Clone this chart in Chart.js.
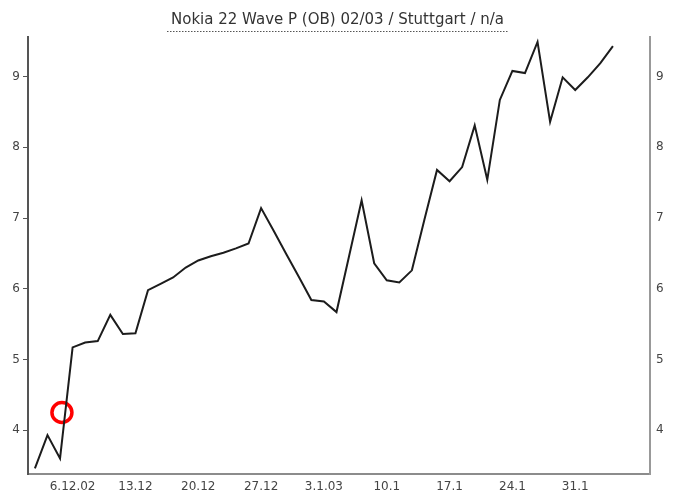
<!DOCTYPE html>
<html><head><meta charset="utf-8">
<script src="https://cdn.jsdelivr.net/npm/chart.js@4.4.0/dist/chart.umd.min.js"></script>
<style>html,body{margin:0;padding:0;background:#fff;}canvas{display:block;}</style>
</head><body>
<canvas id="c" width="675" height="493"></canvas>
<script>
// Trading days (index positions on the x axis)
const dates = ['3.12','4.12','5.12','6.12','9.12','10.12','11.12','12.12','13.12',
  '16.12','17.12','18.12','19.12','20.12','23.12','24.12','25.12','26.12','27.12',
  '30.12','31.12','1.1','2.1','3.1','6.1','7.1','8.1','9.1','10.1',
  '13.1','14.1','15.1','16.1','17.1','20.1','21.1','22.1','23.1','24.1',
  '27.1','28.1','29.1','30.1','31.1','3.2','4.2','5.2'];
const prices = [3.46,3.93,3.60,5.17,5.24,5.26,5.63,5.36,5.37,
  5.98,6.07,6.16,6.30,6.40,6.46,6.51,6.57,6.64,7.14,
  6.82,6.49,6.17,5.84,5.82,5.67,6.46,7.25,6.36,6.12,
  6.09,6.26,6.98,7.68,7.52,7.72,8.31,7.54,8.67,9.08,
  9.05,9.49,8.36,8.99,8.81,8.99,9.19,9.43];
const tickAt   = ['6.12','13.12','20.12','27.12','3.1','10.1','17.1','24.1','31.1'];
const tickText = ['6.12.02','13.12','20.12','27.12','3.1.03','10.1','17.1','24.1','31.1'];
const yTicks = [4,5,6,7,8,9];
const markerX = 2.15, markerY = 4.25;
const titleText = 'Nokia 22 Wave P (OB) 02/03 / Stuttgart / n/a';

const tickIdx = tickAt.map(d => dates.indexOf(d));
const TFONT = 'DejaVu Sans, sans-serif';

const underline = {
  id: 'underline',
  afterDraw(chart) {
    const tb = chart.titleBlock;
    if (!tb) return;
    const ctx = chart.ctx;
    ctx.save();
    ctx.font = '15px ' + TFONT;
    const w = ctx.measureText(titleText).width;
    const cx = tb.left + tb.width / 2;
    const y = 31.5;
    ctx.strokeStyle = '#555';
    ctx.lineWidth = 1;
    ctx.setLineDash([1.5, 1.5]);
    ctx.beginPath();
    ctx.moveTo(cx - w / 2 - 4, y);
    ctx.lineTo(cx + w / 2 + 4, y);
    ctx.stroke();
    ctx.restore();
  }
};

new Chart(document.getElementById('c'), {
  type: 'line',
  data: {
    datasets: [
      {
        data: prices.map((v, i) => ({x: i, y: v})),
        borderColor: '#1c1c1c', borderWidth: 2, pointRadius: 0, tension: 0, fill: false
      },
      {
        type: 'scatter',
        data: [{x: markerX, y: markerY}],
        pointRadius: 10, pointBorderColor: '#ff0000', pointBorderWidth: 3.5,
        pointBackgroundColor: 'rgba(0,0,0,0)'
      }
    ]
  },
  options: {
    responsive: false,
    animation: false,
    layout: {padding: 0},
    plugins: {
      legend: {display: false},
      tooltip: {enabled: false},
      title: {
        display: true, text: titleText, color: '#333',
        font: {family: TFONT, size: 15, weight: 'normal'},
        padding: {top: 11, bottom: 8}
      }
    },
    scales: {
      x: {
        type: 'linear', min: -0.55, max: 48.95,
        afterBuildTicks: s => { s.ticks = tickIdx.map(v => ({value: v})); },
        afterFit: s => { s.height = 19; },
        ticks: {
          callback: v => { const k = tickIdx.indexOf(v); return k >= 0 ? tickText[k] : ''; },
          color: '#444', font: {family: TFONT, size: 12}, padding: 6,
          maxRotation: 0, autoSkip: false
        },
        grid: {display: false, drawTicks: false},
        border: {display: true, color: '#8c8c8c', width: 2}
      },
      y: {
        position: 'left', min: 3.38, max: 9.56,
        afterBuildTicks: s => { s.ticks = yTicks.map(v => ({value: v})); },
        afterFit: s => { s.width = 28; },
        ticks: {color: '#444', font: {family: TFONT, size: 12}, padding: 3},
        grid: {drawOnChartArea: false, drawTicks: true, tickLength: 5, color: '#555'},
        border: {display: true, color: '#555', width: 2}
      },
      y2: {
        position: 'right', min: 3.38, max: 9.56,
        afterBuildTicks: s => { s.ticks = yTicks.map(v => ({value: v})); },
        afterFit: s => { s.width = 25; },
        ticks: {color: '#444', font: {family: TFONT, size: 12}, padding: 6},
        grid: {display: false, drawTicks: false},
        border: {display: true, color: '#999', width: 2}
      }
    }
  },
  plugins: [underline]
});
</script>
</body></html>
